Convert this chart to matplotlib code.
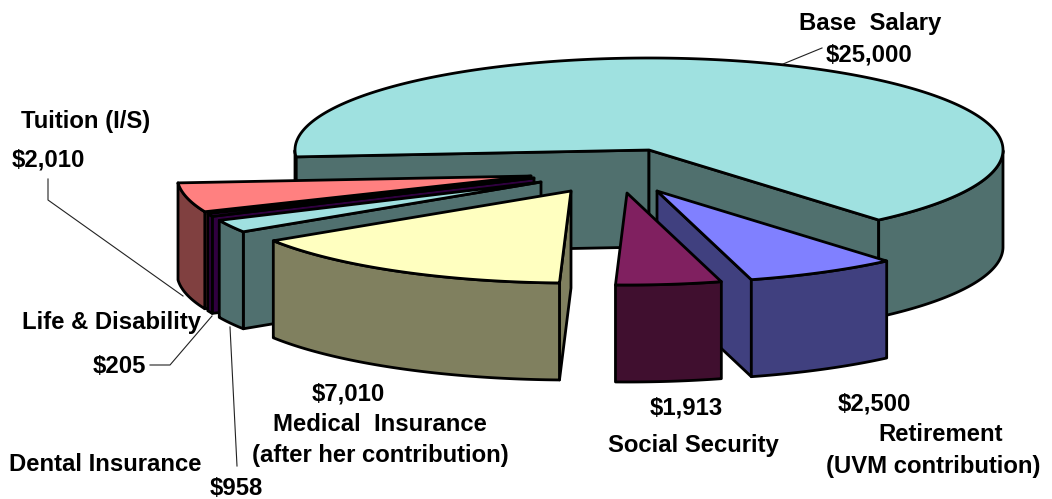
import numpy as np
import matplotlib
matplotlib.use('Agg')
import matplotlib.pyplot as plt
from matplotlib.patches import Polygon

# values printed on the chart
slice_names = ['Base Salary', 'Retirement', 'Social Security', 'Medical Insurance',
               'Dental Insurance', 'Life & Disability', 'Tuition (I/S)']
slice_values = [25000, 2500, 1913, 7010, 958, 205, 2010]

# look of the pie
top_colors = ['#9FE1E0', '#8080FF', '#802060', '#FFFFC0', '#A0E0E0', '#600080', '#FF8080']
side_colors = ['#50706E', '#40407F', '#400F2F', '#80805F', '#50706F', '#300040', '#804040']
# how far each slice is pulled away from the pie centre, in pixels
offsets = [(0, 0), (8, 41), (-22, 43), (-78, 41), (-108, 32), (-115, 28), (-118, 26)]
draw_order = [0, 6, 5, 4, 3, 1, 2]

center_x, center_y = 649, 150
radius_x, radius_y = 354, 92
depth = 97
start_angle = 180
line_w = 2.0

plt.rcParams['font.family'] = ['Liberation Sans', 'DejaVu Sans']

fig = plt.figure(figsize=(10.52, 4.99), dpi=100)
ax = fig.add_axes([0, 0, 1, 1])
ax.set_xlim(0, 1052)
ax.set_ylim(499, 0)
ax.axis('off')


def warp(angle):
    # the 3d view squeezes the front of the pie, so angles shift a few degrees
    return angle + 4.7 * np.cos(np.radians(2 * (angle + 168)))


def rim(cx, cy, angles):
    rad = np.radians(angles)
    return np.column_stack([cx + radius_x * np.cos(rad), cy - radius_y * np.sin(rad)])


def face(points, color):
    ax.add_patch(Polygon(points, closed=True, facecolor=color, edgecolor='black',
                         linewidth=line_w, joinstyle='round'))


def draw_slice(cx, cy, a0, a1, top, side):
    # a0 > a1, the pie runs clockwise
    down = np.array([0, depth])
    apex = np.array([[cx, cy]])

    # flat walls of the cut, only those that face the viewer
    if np.sin(np.radians(a0 + 90)) < 0:
        edge = np.vstack([apex, rim(cx, cy, [a0])])
        face(np.vstack([edge, edge[::-1] + down]), side)
    if np.sin(np.radians(a1 - 90)) < 0:
        edge = np.vstack([apex, rim(cx, cy, [a1])])
        face(np.vstack([edge, edge[::-1] + down]), side)

    # curved outer wall, front half only (the big slice has two separate pieces)
    angles = np.linspace(a0, a1, 400)
    is_front = np.sin(np.radians(angles)) <= 0
    breaks = np.where(np.diff(is_front.astype(int)) != 0)[0] + 1
    for part, mask in zip(np.split(angles, breaks), np.split(is_front, breaks)):
        if mask[0] and len(part) > 1:
            arc = rim(cx, cy, part)
            face(np.vstack([arc, arc[::-1] + down]), side)

    face(np.vstack([apex, rim(cx, cy, angles)]), top)


total = sum(slice_values)
sweeps = [360 * v / total for v in slice_values]
ends = start_angle - np.cumsum(sweeps)
starts = ends + np.array(sweeps)

for i in draw_order:
    draw_slice(center_x + offsets[i][0], center_y + offsets[i][1], warp(starts[i]), warp(ends[i]),
               top_colors[i], side_colors[i])

# leader lines
leaders = [
    ([783, 822], [64, 48]),
    ([48, 48, 183], [179, 200, 296]),
    ([212, 170, 150], [316, 365, 365]),
    ([230, 237], [327, 466]),
]
for xs, ys in leaders:
    ax.plot(xs, ys, color='#222222', linewidth=0.8)

# labels
labels = [
    ('Base  Salary', 870, 30, 'center'),
    ('$25,000', 869, 61, 'center'),
    ('Tuition (I/S)', 21, 128, 'left'),
    ('$2,010', 12, 166, 'left'),
    ('Life & Disability', 22, 329, 'left'),
    ('$205', 93, 373, 'left'),
    ('Dental Insurance', 9, 471, 'left'),
    ('$958', 210, 495, 'left'),
    ('$7,010', 312, 400, 'left'),
    ('Medical  Insurance', 380, 431, 'center'),
    ('(after her contribution)', 380, 462, 'center'),
    ('$1,913', 650, 414, 'left'),
    ('Social Security', 693, 452, 'center'),
    ('$2,500', 838, 410, 'left'),
    ('Retirement', 941, 441, 'center'),
    ('(UVM contribution)', 933, 473, 'center'),
]
for text, x, y, align in labels:
    ax.text(x, y, text, fontsize=17.2, fontweight='bold', color='black',
            ha=align, va='baseline')

fig.savefig('out.png', dpi=100)
